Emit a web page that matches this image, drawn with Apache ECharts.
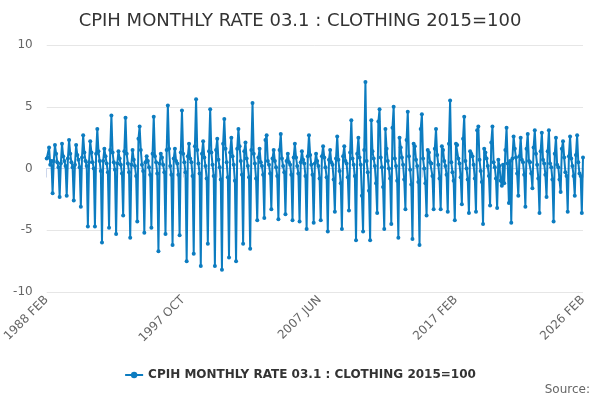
<!DOCTYPE html>
<html>
<head>
<meta charset="utf-8">
<script src="https://cdn.jsdelivr.net/npm/echarts@6/dist/echarts.min.js"></script>
<style>
  html, body { margin: 0; padding: 0; background: #fff; }
  #chart { width: 600px; height: 400px; }
</style>
</head>
<body>
<div id="chart"></div>
<script>
// monthly rate, % change on previous month, 1988 FEB .. 2026 FEB
var firstYear = 1988;
var firstMonth = 1; // FEB
var monthNames = ['JAN', 'FEB', 'MAR', 'APR', 'MAY', 'JUN', 'JUL', 'AUG', 'SEP', 'OCT', 'NOV', 'DEC'];
var yTicks = [-10, -5, 0, 5, 10];
var seriesName = 'CPIH MONTHLY RATE 03.1 : CLOTHING 2015=100';

var rates = [
  /* 1988 */ 0.8, 0.9, 1.7, 0.3, 0.6, -2.0, 0.6, 1.9, 1.2, 0.5, 0.1,
  /* 1989 */ -2.3, 0.4, 2.0, 1.0, 0.6, 0.2, -2.2, 0.8, 2.3, 1.2, 0.5, 0.1,
  /* 1990 */ -2.6, 0.3, 1.9, 1.1, 0.7, 0.1, -3.1, 0.9, 2.7, 1.3, 0.6, 0.2,
  /* 1991 */ -4.7, 0.5, 2.2, 1.3, 0.5, 0.0, -4.7, 1.2, 3.2, 1.4, 0.6, -0.2,
  /* 1992 */ -6.0, 0.6, 1.6, 1.0, 0.4, -0.3, -4.8, 1.5, 4.3, 1.3, 0.5, -0.1,
  /* 1993 */ -5.3, 0.4, 1.4, 0.8, 0.3, -0.4, -3.8, 1.4, 4.1, 1.2, 0.4, -0.3,
  /* 1994 */ -5.6, 0.3, 1.5, 0.7, 0.2, -0.6, -4.3, 2.4, 3.4, 1.5, 0.3, -0.2,
  /* 1995 */ -5.2, 0.5, 1.0, 0.6, 0.1, -0.5, -4.8, 1.2, 4.2, 1.0, 0.5, -0.4,
  /* 1996 */ -6.7, 0.4, 1.2, 0.9, 0.3, -0.3, -5.3, 1.5, 5.1, 1.6, 0.2, -0.5,
  /* 1997 */ -6.2, 0.8, 1.6, 0.6, 0.4, -0.5, -5.4, 1.3, 4.7, 1.2, 0.5, -0.3,
  /* 1998 */ -7.5, 1.0, 2.0, 0.8, 0.5, -0.6, -6.9, 1.8, 5.6, 1.5, 0.4, -0.4,
  /* 1999 */ -7.9, 1.2, 2.2, 0.9, 0.2, -0.8, -6.1, 1.4, 4.8, 1.3, 0.3, -0.6,
  /* 2000 */ -7.9, 1.5, 2.4, 0.7, 0.1, -0.9, -8.2, 2.0, 4.0, 1.6, 0.5, -0.7,
  /* 2001 */ -7.2, 1.3, 2.5, 1.0, 0.3, -1.0, -7.5, 1.6, 3.2, 1.8, 0.6, -0.5,
  /* 2002 */ -6.1, 1.4, 2.1, 0.8, 0.2, -0.7, -6.5, 1.5, 5.3, 1.2, 0.4, -0.8,
  /* 2003 */ -4.2, 0.9, 1.6, 0.5, 0.2, -0.5, -4.0, 2.3, 2.7, 0.6, 0.3, -0.4,
  /* 2004 */ -3.3, 0.8, 1.5, 0.6, 0.1, -0.6, -4.1, 1.5, 2.8, 0.8, 0.2, -0.3,
  /* 2005 */ -3.7, 0.6, 1.2, 0.5, 0.3, -0.5, -4.2, 0.9, 2.0, 0.9, 0.2, -0.4,
  /* 2006 */ -4.3, 0.5, 1.4, 0.7, 0.4, -0.6, -4.9, 1.0, 2.7, 1.1, 0.3, -0.5,
  /* 2007 */ -4.4, 0.4, 1.2, 0.6, 0.2, -0.8, -4.2, 1.0, 1.8, 0.9, 0.1, -0.7,
  /* 2008 */ -5.1, 0.7, 1.5, 0.5, 0.3, -0.9, -3.5, 0.8, 2.6, 0.7, -0.2, -1.2,
  /* 2009 */ -4.9, 1.0, 1.8, 0.6, 0.4, -0.7, -3.4, 1.3, 3.9, 0.8, 0.3, -0.6,
  /* 2010 */ -5.8, 1.2, 2.5, 0.9, 0.3, -2.2, -5.1, 1.5, 7.0, 0.6, -0.3, -1.8,
  /* 2011 */ -5.8, 3.9, 1.4, 0.8, 0.2, -1.2, -3.6, 3.8, 4.8, 0.9, 0.1, -1.5,
  /* 2012 */ -4.9, 3.2, 1.6, 0.6, 0.0, -0.8, -4.5, 3.3, 5.0, 0.8, 0.2, -1.0,
  /* 2013 */ -5.6, 2.5, 1.7, 0.9, 0.3, -0.9, -3.3, 2.3, 4.6, 1.0, -0.1, -1.3,
  /* 2014 */ -5.7, 2.0, 1.8, 0.7, 0.2, -1.1, -6.2, 3.2, 4.4, 0.8, 0.0, -1.2,
  /* 2015 */ -3.8, 1.5, 1.3, 0.5, 0.4, -0.6, -3.3, 1.6, 3.2, 1.1, 0.3, -0.8,
  /* 2016 */ -3.3, 1.8, 1.5, 0.6, 0.2, -0.5, -3.5, 2.0, 5.5, 0.5, -0.3, -1.0,
  /* 2017 */ -4.2, 2.0, 1.9, 0.8, 0.4, -0.7, -2.9, 2.4, 4.2, 0.6, 0.0, -0.9,
  /* 2018 */ -3.6, 1.4, 1.2, 1.0, 0.3, -0.8, -3.5, 3.1, 3.4, 0.7, -0.2, -1.1,
  /* 2019 */ -4.5, 1.6, 1.3, 0.8, 0.2, -0.6, -3.0, 2.1, 3.4, 0.5, 0.1, -0.8,
  /* 2020 */ -3.2, 0.7, 0.2, -1.0, -1.4, 0.3, -1.2, 1.5, 3.3, 0.4, -2.8, 0.6,
  /* 2021 */ -4.4, 0.8, 2.6, 1.6, 0.9, -0.4, -2.2, 1.0, 2.5, 0.7, 0.5, -0.5,
  /* 2022 */ -3.1, 1.6, 2.8, 0.6, 0.5, -0.4, -1.6, 1.7, 3.1, 1.2, 0.3, -0.8,
  /* 2023 */ -3.6, 1.4, 2.9, 0.7, 0.4, -0.5, -2.3, 1.4, 3.1, 0.4, 0.1, -0.9,
  /* 2024 */ -4.3, 1.2, 2.5, 0.3, 0.1, -0.9, -1.9, 1.6, 2.2, 0.9, -0.3, -0.6,
  /* 2025 */ -3.5, 1.0, 2.6, 0.8, 0.2, -0.6, -2.2, 1.1, 2.7, 0.5, -0.4, -0.6,
  /* 2026 */ -3.6, 0.9
];

var months = [];
for (var i = 0; i < rates.length; i++) {
  var m = firstMonth + i;
  months.push((firstYear + Math.floor(m / 12)) + ' ' + monthNames[m % 12]);
}
var lastIdx = months.length - 1;

var chart = echarts.init(document.getElementById('chart'));
chart.setOption({
  animation: false,
  title: {
    text: seriesName,
    left: 'center',
    top: 7,
    textStyle: { fontSize: 18, fontWeight: 'normal', color: '#333', fontFamily: 'DejaVu Sans' }
  },
  legend: {
    bottom: 14,
    left: 'center',
    itemWidth: 18,
    itemHeight: 8,
    textStyle: { fontSize: 12, fontWeight: 'bold', color: '#333', fontFamily: 'DejaVu Sans' },
    data: [seriesName]
  },
  graphic: [{
    type: 'text',
    right: 10,
    bottom: 4,
    style: { text: 'Source:', fill: '#666', font: '12px DejaVu Sans' }
  }],
  grid: { left: 43, right: 17, top: 45, bottom: 108 },
  xAxis: {
    type: 'category',
    data: months,
    boundaryGap: false,
    axisLine: { lineStyle: { color: '#ccd6eb' } },
    axisTick: {
      length: 9,
      lineStyle: { color: '#ccd6eb' },
      interval: function (idx) { return idx % 29 === 0 || idx === lastIdx; }
    },
    axisLabel: {
      rotate: 45,
      color: '#666',
      fontSize: 12,
      fontFamily: 'DejaVu Sans',
      margin: 6,
      interval: function (idx) { return idx % 116 === 0 || idx === lastIdx; }
    },
    splitLine: { show: false }
  },
  yAxis: {
    type: 'value',
    min: yTicks[0],
    max: yTicks[yTicks.length - 1],
    interval: 5,
    axisLine: { show: false },
    axisTick: { show: false },
    axisLabel: { color: '#666', fontSize: 12, fontFamily: 'DejaVu Sans', margin: 14 },
    splitLine: { lineStyle: { color: '#e6e6e6' } }
  },
  series: [{
    name: seriesName,
    type: 'line',
    data: rates,
    symbol: 'circle',
    symbolSize: 4,
    showAllSymbol: true,
    color: '#0c7cc0',
    lineStyle: { width: 2, color: '#0c7cc0' },
    itemStyle: { color: '#0c7cc0' }
  }]
});
</script>
</body>
</html>
